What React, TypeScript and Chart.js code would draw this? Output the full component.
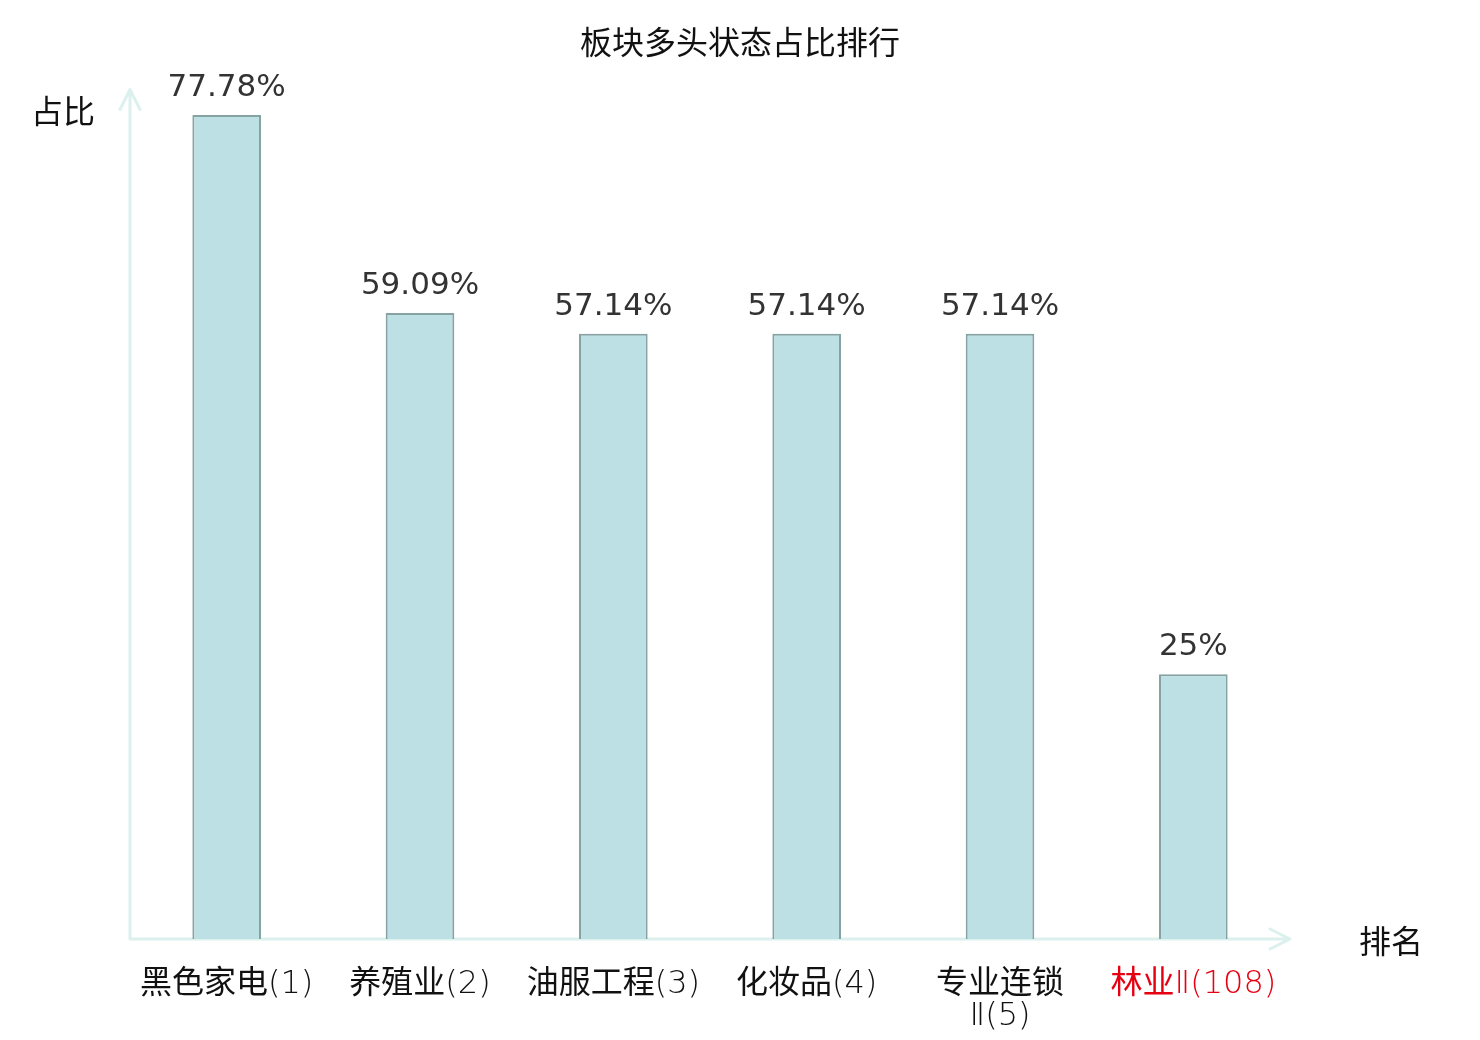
import Chart, { ChartConfiguration, Plugin } from 'chart.js/auto';
import React, { useEffect, useRef } from 'react';

const categories: (string | string[])[] = [
  '黑色家电(1)',
  '养殖业(2)',
  '油服工程(3)',
  '化妆品(4)',
  ['专业连锁', 'Ⅱ(5)'],
  '林业Ⅱ(108)',
];
const ratios = [77.78, 59.09, 57.14, 57.14, 57.14, 25];
const ratioLabels = ['77.78%', '59.09%', '57.14%', '57.14%', '57.14%', '25%'];
const highlightIndex = 5;
const title = '板块多头状态占比排行';

const CJK = '"Noto Sans CJK SC", "Noto Sans", sans-serif';
const AXIS_COLOR = '#dcf1ee';

// axis lines with arrows, title, axis names and value labels
const decorPlugin: Plugin<'bar'> = {
  id: 'decor',
  beforeDatasetsDraw(chart) {
    const { ctx, chartArea } = chart;
    const { left, right, top, bottom } = chartArea;
    ctx.save();
    ctx.strokeStyle = AXIS_COLOR;
    ctx.lineWidth = 3;
    ctx.lineCap = 'round';
    ctx.lineJoin = 'round';
    ctx.beginPath();
    ctx.moveTo(left, bottom);
    ctx.lineTo(left, top - 2);
    ctx.moveTo(left - 10, top + 18);
    ctx.lineTo(left, top - 2);
    ctx.lineTo(left + 10, top + 18);
    ctx.moveTo(left, bottom);
    ctx.lineTo(right, bottom);
    ctx.moveTo(right - 20, bottom - 10);
    ctx.lineTo(right, bottom);
    ctx.lineTo(right - 20, bottom + 10);
    ctx.stroke();
    ctx.restore();
  },
  afterDatasetsDraw(chart) {
    const { ctx, chartArea } = chart;
    ctx.save();
    ctx.fillStyle = '#111';
    ctx.font = `32px ${CJK}`;
    ctx.textAlign = 'center';
    ctx.textBaseline = 'middle';
    ctx.fillText(title, chart.width / 2, 42);
    ctx.fillText('占比', chartArea.left - 67, chartArea.top + 19);
    ctx.fillText('排名', chartArea.right + 101, chartArea.bottom + 2);

    ctx.fillStyle = '#333';
    ctx.font = '31px "DejaVu Sans", sans-serif';
    ctx.textBaseline = 'alphabetic';
    const meta = chart.getDatasetMeta(0);
    meta.data.forEach((bar, i) => {
      ctx.fillText(ratioLabels[i], bar.x, bar.y - 19);
    });
    ctx.restore();
  },
};

const App: React.FC = () => {
  const chartRef = useRef<HTMLCanvasElement>(null);

  useEffect(() => {
    if (!chartRef.current) return;
    const ctx = chartRef.current.getContext('2d');
    if (!ctx) return;

    const config: ChartConfiguration<'bar'> = {
      type: 'bar',
      data: {
        labels: categories,
        datasets: [
          {
            data: ratios,
            backgroundColor: '#bce0e3',
            borderColor: '#86a2a3',
            borderWidth: 2,
            categoryPercentage: 1,
            barPercentage: 0.355,
          },
        ],
      },
      options: {
        responsive: true,
        maintainAspectRatio: false,
        animation: false,
        devicePixelRatio: 1,
        layout: {
          padding: { left: 130, right: 190, top: 91.5, bottom: 0 },
        },
        plugins: {
          legend: { display: false },
          tooltip: { enabled: false },
          title: { display: false },
        },
        scales: {
          x: {
            grid: { display: false, drawTicks: false },
            border: { display: false },
            ticks: {
              padding: 30,
              maxRotation: 0,
              autoSkip: false,
              font: { family: '"DejaVu Sans Light", ' + CJK, size: 32, weight: 'normal', lineHeight: 1.0 },
              color: (c) => (c.index === highlightIndex ? '#e60012' : '#111'),
            },
            afterFit: (scale) => {
              scale.height = 101;
            },
          },
          y: {
            display: false,
            min: 0,
            max: 80,
          },
        },
      },
      plugins: [decorPlugin],
    };

    const chart = new Chart(ctx, config);
    return () => {
      chart.destroy();
    };
  }, []);

  return (
    <div style={{ position: 'absolute', left: 0, top: 0, width: 1480, height: 1040, background: '#fff' }}>
      <canvas ref={chartRef} />
    </div>
  );
};

export default App;
